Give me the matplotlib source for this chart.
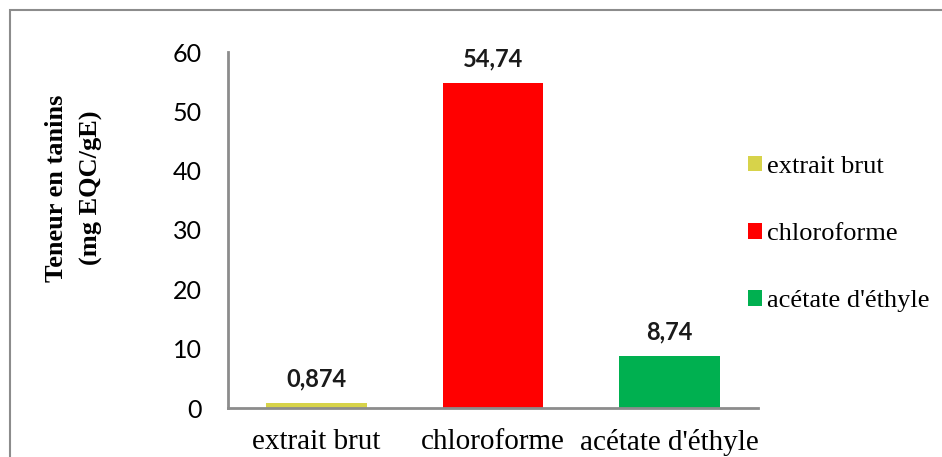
import matplotlib
matplotlib.use("Agg")
import matplotlib.pyplot as plt
from matplotlib.patches import Rectangle

categories = ["extrait brut", "chloroforme", "acétate d'éthyle"]
values = [0.874, 54.74, 8.74]
value_labels = ["0,874", "54,74", "8,74"]
colors = ["#d7d34a", "#ff0000", "#00b050"]
yticks = [0, 10, 20, 30, 40, 50, 60]

fig = plt.figure(figsize=(9.42, 4.57), dpi=100)
ax = fig.add_axes([228 / 942, 1 - 408 / 457, 530 / 942, 356 / 457])

x = range(len(categories))
bars = ax.bar(x, values, width=0.57, color=colors, label=categories)

for b, lab in zip(bars, value_labels):
    ax.annotate(lab, (b.get_x() + b.get_width() / 2, b.get_height()),
                xytext=(0, 9), textcoords="offset points",
                ha="center", va="bottom", fontsize=17, fontweight="bold",
                family="Lato", color="#1a1a1a")

ax.set_xlim(-0.5, 2.5)
ax.set_ylim(0, 60)
ax.set_yticks(yticks)
ax.set_yticklabels([str(t) for t in yticks], family="Lato", fontsize=18)
ax.set_xticks(list(x))
ax.set_xticklabels(categories, family="Liberation Serif", fontsize=21)
ax.tick_params(axis="both", length=0)
ax.tick_params(axis="y", pad=19)
ax.tick_params(axis="x", pad=15)

for s in ["top", "right"]:
    ax.spines[s].set_visible(False)
for s in ["left", "bottom"]:
    ax.spines[s].set_color("#8c8c8c")
    ax.spines[s].set_linewidth(2)

fig.text(74 / 942, 1 - 188 / 457, "Teneur en tanins\n(mg EQC/gE)",
         rotation=90, ha="center", va="center", multialignment="center",
         family="Liberation Serif", fontweight="bold", fontsize=19,
         linespacing=1.6)

leg = fig.legend(handles=bars, labels=categories, loc="upper left",
                 bbox_to_anchor=(737 / 942, 1 - 145 / 457), frameon=False,
                 prop={"family": "Liberation Serif", "size": 19},
                 handlelength=0.55, handleheight=0.55, handletextpad=0.2,
                 labelspacing=1.7, borderaxespad=0)

# outer chart frame
fig.patches.append(Rectangle((10 / 942, -0.05), 1.0, 1 - 10 / 457 + 0.05,
                             transform=fig.transFigure, fill=False,
                             edgecolor="#8c8c8c", linewidth=1.5))

fig.savefig("out.png", dpi=100)
